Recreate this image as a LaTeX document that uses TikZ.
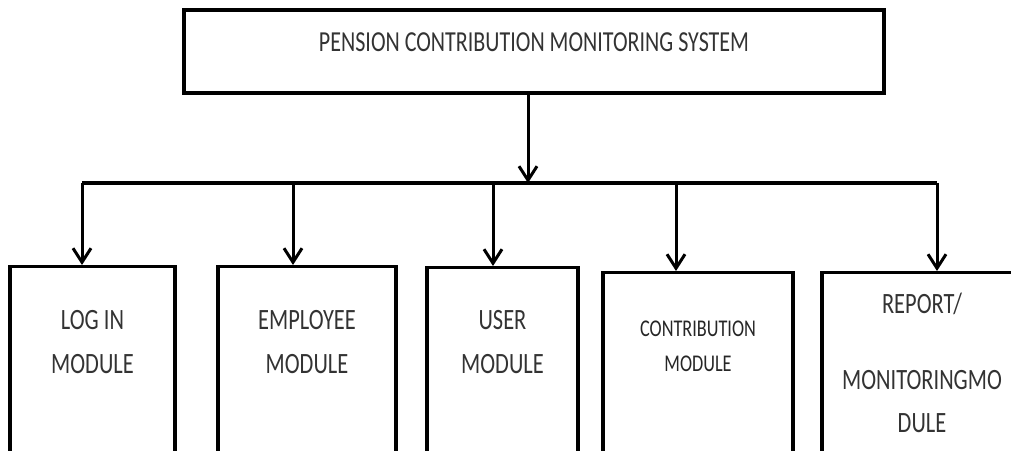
\documentclass[tikz,border=0pt]{standalone}
\usepackage{fontspec}
\setmainfont[FakeStretch=0.76]{Carlito}
\usetikzlibrary{positioning, arrows.meta}
\tikzstyle{topbox} = [rectangle, draw, line width=3.5pt, minimum width=700pt, minimum height=83pt, text height=19pt, text depth=19.9pt, text=black!80, font=\fontsize{29}{34}\selectfont]
\tikzstyle{modbox} = [rectangle, draw, line width=3.2pt, minimum height=215pt, anchor=north]
\tikzstyle{modtext} = [align=center, inner sep=0pt, text=black!80, font=\fontsize{29.5}{44}\selectfont]
\tikzstyle{smalltext} = [align=center, inner sep=0pt, text=black!85, font=\fontsize{24}{35}\selectfont]
\tikzstyle{arrow} = [line width=3pt, -{Straight Barb[length=14pt, width=18pt, line width=3pt]}]
\tikzstyle{bus} = [line width=4pt]

\begin{document}
\begin{tikzpicture}[x=1pt, y=1pt]
  \useasboundingbox (0,0) rectangle (1011,450);

  % Main system box
  \node (pcms) [topbox] at (534,398.5) {PENSION CONTRIBUTION MONITORING SYSTEM};

  % Bus line
  \coordinate (busmid) at (528,267);
  \coordinate (busL) at (82,267);
  \coordinate (busR) at (937,267);
  \draw[bus] (busL) -- (busR);
  \draw[arrow] (pcms.south -| busmid) -- (busmid);

  % Modules
  \node (login) [modbox, minimum width=165pt] at (92.5,185) {};
  \node (employee) [modbox, minimum width=178pt] at (307,185) {};
  \node (user) [modbox, minimum width=151pt] at (502.5,184) {};
  \node (contrib) [modbox, minimum width=190pt] at (698,179) {};
  \node (report) [modbox, minimum width=200pt] at (922,179) {};

  % Module texts
  \node (login_txt) [modtext, below=45.5pt of login.north] {LOG IN\\MODULE};
  \node (employee_txt) [modtext, below=45.5pt of employee.north] {EMPLOYEE\\MODULE};
  \node (user_txt) [modtext, below=44.5pt of user.north] {USER\\MODULE};
  \node (contrib_txt) [smalltext, below=49.3pt of contrib.north] {CONTRIBUTION\\MODULE};
  \node (report_txt) [modtext, below=21.5pt of report.north] {REPORT/\\[32pt]MONITORINGMO\\[-1pt]DULE};

  % Arrows to modules
  \draw[arrow] (busL) -- (busL |- login.north);
  \draw[arrow] (293,267) -- (293,0 |- employee.north);
  \draw[arrow] (493,267) -- (493,0 |- user.north);
  \draw[arrow] (676,267) -- (676,0 |- contrib.north);
  \draw[arrow] (busR) -- (busR |- report.north);

\end{tikzpicture}
\end{document}
